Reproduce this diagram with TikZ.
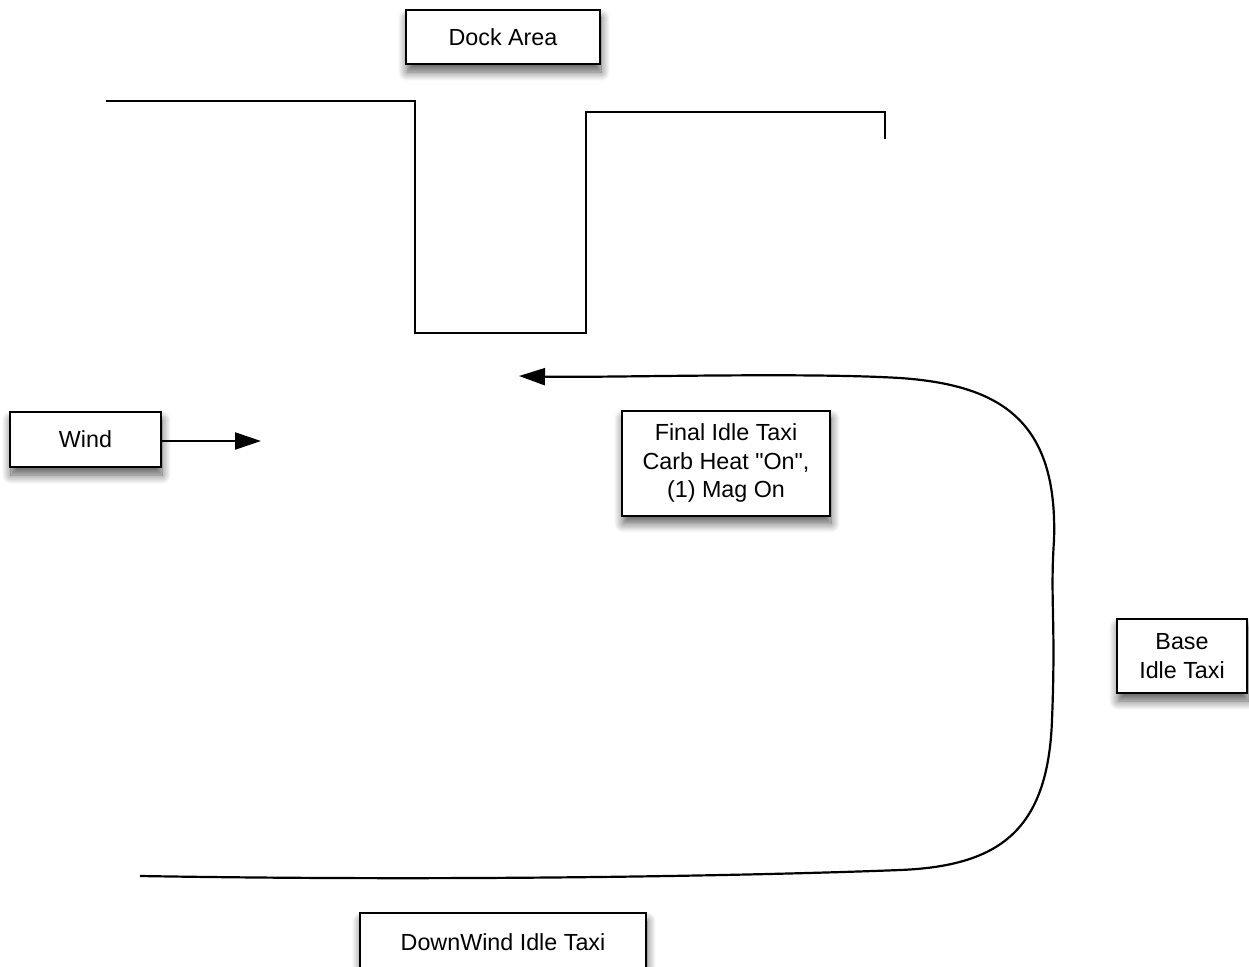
\documentclass[tikz,border=0pt]{standalone}
\usepackage{fontspec}
\newfontfamily\lab{Liberation Sans}
\usetikzlibrary{arrows.meta,shadows.blur}
\begin{document}
\begin{tikzpicture}[x=1pt,y=-1pt,
  lbl/.style={inner sep=0pt,align=center,font=\lab\fontsize{23.3}{28.5}\selectfont},
  box/.style={lbl,draw=black,line width=2pt,fill=white,
    blur shadow={shadow xshift=1pt,shadow yshift=-8pt,shadow blur steps=10,shadow blur radius=9pt,shadow opacity=65}},
  wall/.style={line width=2pt,line cap=butt,line join=miter},
  flow/.style={line width=2.2pt,-{Triangle[length=26pt,width=17pt]}}]
\useasboundingbox (0,0) rectangle (1249,966);
\node[box,minimum width=194pt,minimum height=54pt] (dock) at (503,37) {Dock Area};
\draw[wall] (106,101) -- (415,101) -- (415,333) -- (586,333) -- (586,112) -- (885,112) -- (885,139);
\node[box,minimum width=151pt,minimum height=55pt] (wind) at (85.5,439.5) {Wind};
\coordinate (windtip) at (261,441);
\draw[flow] (wind.east |- windtip) -- (windtip);
\node[box,minimum width=208pt,minimum height=105pt] (final) at (726,463) {Final Idle Taxi\\Carb Heat "On",\\(1) Mag On};
\node[box,minimum width=130pt,minimum height=74pt] (base) at (1182,656) {Base\\Idle Taxi};
\node[box,minimum width=286pt,minimum height=70pt] (down) at (503,948) {};
\node[lbl] (downtxt) at (503,942) {DownWind Idle Taxi};
\coordinate (start) at (140,876);
\coordinate (end) at (519,376);
\draw[flow] (start) .. controls (500,882) and (800,874) .. (900,870)
  .. controls (1000,866) and (1048,830) .. (1052,720)
  .. controls (1056,620) and (1050,600) .. (1054,540)
  .. controls (1058,420) and (1000,385) .. (900,378)
  .. controls (800,372) and (600,378) .. (end);
\end{tikzpicture}
\end{document}
